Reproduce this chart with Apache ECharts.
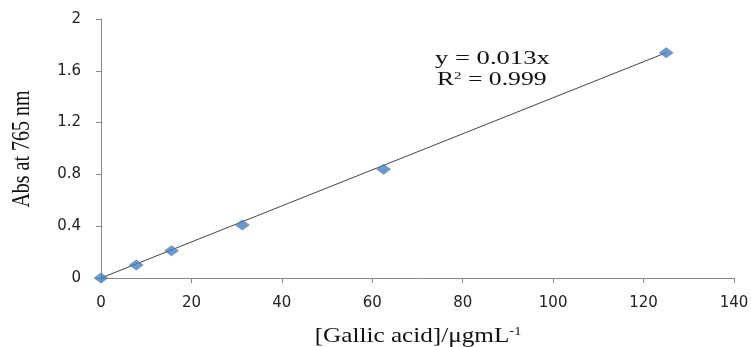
<!DOCTYPE html>
<html><head><meta charset="utf-8">
<script src="https://cdn.jsdelivr.net/npm/echarts@6/dist/echarts.min.js"></script>
<style>html,body{margin:0;padding:0;background:#fff}#c{width:751px;height:347px}</style>
</head><body><div id="c"></div>
<script>
const concentrations = [0, 7.8, 15.6, 31.25, 62.5, 125];
const absorbances = [0, 0.10, 0.21, 0.41, 0.84, 1.74];
const trendX = [0, 125];
const trendY = [0, 1.74];
const xTicks = [0, 20, 40, 60, 80, 100, 120, 140];
const yTicks = [0, 0.4, 0.8, 1.2, 1.6, 2];
const xTitle = '[Gallic acid]/μgmL';
const xTitleSup = '-1';
const yTitle = 'Abs at 765 nm';
const equationText = 'y = 0.013x';
const r2Value = '0.999';

const chart = echarts.init(document.getElementById('c'), null, {renderer: 'canvas'});
const axisLabelStyle = {color: '#222', fontFamily: 'DejaVu Sans', fontSize: 15};
const serif = 'Liberation Serif';
chart.setOption({
  animation: false,
  grid: {left: 101, right: 17, top: 19, bottom: 69, outerBoundsMode: 'none', containLabel: false},
  xAxis: {
    type: 'value', min: xTicks[0], max: xTicks[xTicks.length - 1], interval: 20,
    axisLine: {lineStyle: {color: '#888', width: 1}},
    axisTick: {show: true, length: 5, lineStyle: {color: '#888'}},
    splitLine: {show: false},
    axisLabel: Object.assign({margin: 18}, axisLabelStyle)
  },
  yAxis: {
    type: 'value', min: yTicks[0], max: yTicks[yTicks.length - 1], interval: 0.4,
    axisLine: {show: true, lineStyle: {color: '#888', width: 1}},
    axisTick: {show: true, length: 5, lineStyle: {color: '#888'}},
    splitLine: {show: false},
    axisLabel: Object.assign({margin: 20}, axisLabelStyle)
  },
  series: [
    {
      type: 'line', data: trendX.map((x, i) => [x, trendY[i]]),
      symbol: 'none', lineStyle: {color: '#444', width: 1}, z: 1, silent: true
    },
    {
      type: 'scatter', data: concentrations.map((x, i) => [x, absorbances[i]]),
      symbol: 'diamond', symbolSize: [15, 11],
      itemStyle: {color: '#4a7ebb'}, z: 2
    }
  ],
  graphic: [
    {type: 'text', x: 435, y: 59.5, scaleX: 1.4, style: {
      text: equationText, fontFamily: serif, fontSize: 19, fill: '#111',
      align: 'left', verticalAlign: 'middle'}},
    {type: 'text', x: 437, y: 80.5, scaleX: 1.35, style: {
      text: '{a|R}{s|2}{a| = ' + r2Value + '}', align: 'left', verticalAlign: 'middle',
      rich: {
        a: {fontFamily: serif, fontSize: 19, fill: '#111'},
        s: {fontFamily: serif, fontSize: 11, fill: '#111', verticalAlign: 'top', padding: [0, 0, 8, 0]}
      }
    }},
    {type: 'text', x: 418, y: 336, scaleX: 1.2, style: {
      text: '{n|' + xTitle + '}{s|' + xTitleSup + '}', align: 'center', verticalAlign: 'middle',
      rich: {
        n: {fontFamily: serif, fontSize: 21, fill: '#111'},
        s: {fontFamily: serif, fontSize: 12, fill: '#111', verticalAlign: 'top', padding: [0, 0, 9, 0]}
      }
    }},
    {type: 'text', x: 22, y: 149, rotation: Math.PI / 2, scaleY: 1.25, style: {
      text: yTitle, fontFamily: serif, fontSize: 20, fill: '#111',
      align: 'center', verticalAlign: 'middle'}}
  ]
});
</script></body></html>
